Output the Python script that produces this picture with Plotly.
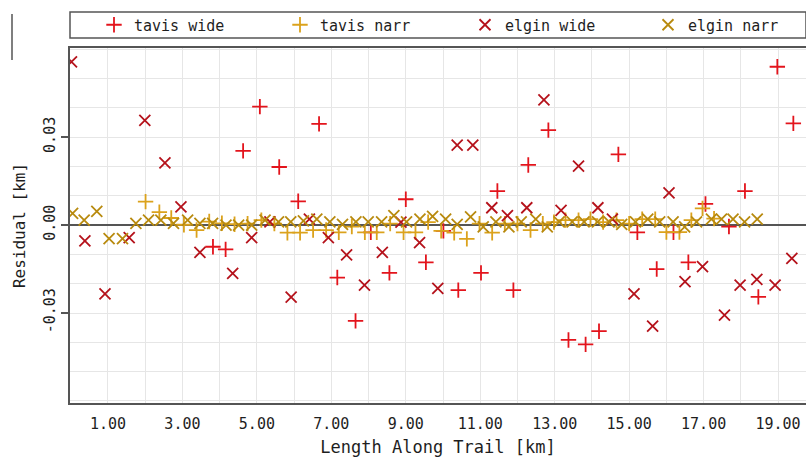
import plotly.graph_objects as go

# ---- data ----
tavis_wide_x = [3.82, 4.16, 4.63, 5.08, 5.60, 6.11, 6.67, 7.16, 7.65, 8.06, 8.56, 9.00, 9.54, 10.01,
                10.41, 11.02, 11.46, 11.89, 12.29, 12.83, 13.37, 13.83, 14.19, 14.71, 15.22, 15.74,
                16.19, 16.59, 17.05, 17.68, 18.11, 18.47, 18.98, 19.41]
tavis_wide_y = [-0.0074, -0.0083, 0.0253, 0.0404, 0.0198, 0.0081, 0.0345, -0.0179, -0.0327, -0.0025,
                -0.0163, 0.0088, -0.0127, -0.0020, -0.0222, -0.0163, 0.0116, -0.0222, 0.0205, 0.0324,
                -0.0392, -0.0407, -0.0362, 0.0241, -0.0025, -0.0150, -0.0025, -0.0127, 0.0072,
                -0.0005, 0.0116, -0.0245, 0.0540, 0.0347]

tavis_narr_x = [2.01, 2.38, 2.70, 3.04, 3.38, 3.72, 4.06, 4.40, 4.75, 5.12, 5.47, 5.82, 6.16, 6.51,
                6.86, 7.20, 7.55, 7.90, 8.22, 8.58, 8.94, 9.26, 9.60, 9.95, 10.30, 10.64, 10.98,
                11.32, 11.66, 12.00, 12.35, 12.68, 12.98, 13.29, 13.64, 13.96, 14.30, 14.66, 15.00,
                15.35, 15.70, 16.00, 16.35, 16.67, 16.97, 17.28]
tavis_narr_y = [0.0080, 0.0044, 0.0024, 0.0001, -0.0017, 0.0012, 0.0006, 0.0003, 0.0005, 0.0017,
                0.0005, -0.0026, -0.0026, -0.0017, -0.0017, -0.0025, -0.0005, -0.0025, -0.0025,
                0.0005, -0.0025, -0.0025, 0.0010, -0.0020, -0.0026, -0.0047, 0.0005, -0.0026,
                0.0005, 0.0005, -0.0017, 0.0005, 0.0010, 0.0017, 0.0017, 0.0020, 0.0010, 0.0017,
                0.0005, 0.0020, 0.0020, -0.0024, -0.0024, 0.0017, 0.0057, 0.0022]

elgin_wide_x = [0.02, 0.38, 0.92, 1.57, 1.99, 2.53, 2.96, 3.47, 4.35, 4.86, 5.35, 5.92, 6.41, 6.92,
                7.41, 7.89, 8.37, 8.87, 9.37, 9.86, 10.38, 10.80, 11.31, 11.73, 12.25, 12.71, 13.17,
                13.64, 14.16, 14.55, 15.13, 15.63, 16.07, 16.50, 16.97, 17.56, 17.98, 18.43, 18.92,
                19.37]
elgin_wide_y = [0.0557, -0.0054, -0.0235, -0.0043, 0.0357, 0.0212, 0.0062, -0.0093, -0.0165,
                -0.0043, 0.0011, -0.0246, 0.0020, -0.0043, -0.0102, -0.0205, -0.0093, 0.0010,
                -0.0060, -0.0216, 0.0273, 0.0273, 0.0059, 0.0032, 0.0059, 0.0427, 0.0050, 0.0201,
                0.0059, 0.0020, -0.0235, -0.0345, 0.0110, -0.0193, -0.0142, -0.0307, -0.0205,
                -0.0185, -0.0205, -0.0114]

elgin_narr_x = [0.05, 0.36, 0.70, 1.03, 1.39, 1.75, 2.09, 2.42, 2.76, 3.14, 3.47, 3.81, 4.17, 4.51,
                4.86, 5.22, 5.58, 5.91, 6.25, 6.61, 6.96, 7.30, 7.66, 7.99, 8.35, 8.68, 9.02, 9.38,
                9.72, 10.07, 10.38, 10.74, 11.08, 11.42, 11.77, 12.10, 12.49, 12.80, 13.12, 13.47,
                13.79, 14.15, 14.46, 14.80, 15.17, 15.50, 15.82, 16.18, 16.49, 16.81, 17.21, 17.48,
                17.79, 18.10, 18.44]
elgin_narr_y = [0.0040, 0.0017, 0.0047, -0.0046, -0.0046, 0.0006, 0.0017, 0.0017, 0.0006, 0.0017,
                0.0006, 0.0006, 0.0000, 0.0000, 0.0000, 0.0017, 0.0011, 0.0011, 0.0014, 0.0020,
                0.0011, 0.0002, 0.0011, 0.0011, 0.0011, 0.0032, 0.0011, 0.0020, 0.0030, 0.0020,
                0.0002, 0.0028, -0.0006, 0.0011, -0.0006, 0.0011, 0.0020, -0.0006, 0.0011, 0.0011,
                0.0011, 0.0011, 0.0011, 0.0002, 0.0011, 0.0020, 0.0011, 0.0011, -0.0006, 0.0011,
                0.0020, 0.0020, 0.0020, 0.0011, 0.0020]

x_tick_vals = [1, 3, 5, 7, 9, 11, 13, 15, 17, 19]
x_tick_text = ["1.00", "3.00", "5.00", "7.00", "9.00", "11.00", "13.00", "15.00", "17.00", "19.00"]
y_tick_vals = [-0.03, 0.0, 0.03]
y_tick_text = ["-0.03", "0.00", "0.03"]

FONT = "DejaVu Sans Mono"
TXT = "#1e1e1e"
W, H = 806, 461
ML, MR, MT, MB = 70, 0, 48, 58
PW, PH = W - ML - MR, H - MT - MB


def px_x(p):
    return (p - ML) / PW


def px_y(p):
    return (H - MB - p) / PH


series = [
    ("tavis wide", tavis_wide_x, tavis_wide_y, "cross-thin", "#e3141c", "legend"),
    ("tavis narr", tavis_narr_x, tavis_narr_y, "cross-thin", "#dba21c", "legend2"),
    ("elgin wide", elgin_wide_x, elgin_wide_y, "x-thin", "#b5121b", "legend3"),
    ("elgin narr", elgin_narr_x, elgin_narr_y, "x-thin", "#b88a0e", "legend4"),
]

fig = go.Figure()
for name, xs, ys, sym, col, lg in series:
    fig.add_trace(go.Scatter(
        x=xs, y=ys, mode="markers", name=name, legend=lg,
        marker=dict(symbol=sym, size=11, color=col, line=dict(color=col, width=1.8)),
    ))

legend_left_px = [94, 280, 465, 648]
legend_common = dict(orientation="h", xanchor="left", yanchor="middle", y=px_y(25),
                     bgcolor="rgba(0,0,0,0)", borderwidth=0,
                     font=dict(family=FONT, size=15, color=TXT))
legends = {}
for key, lp in zip(["legend", "legend2", "legend3", "legend4"], legend_left_px):
    legends[key] = dict(x=px_x(lp), **legend_common)

fig.update_layout(
    width=W, height=H,
    margin=dict(l=ML, r=MR, t=MT, b=MB, autoexpand=False),
    paper_bgcolor="white", plot_bgcolor="white",
    font=dict(family=FONT, size=15, color=TXT),
    showlegend=True,
    **legends,
    xaxis=dict(
        range=[-0.02, 19.75],
        tickmode="array", tickvals=x_tick_vals, ticktext=x_tick_text,
        showgrid=True, gridcolor="#e6e6e6", gridwidth=1,
        minor=dict(dtick=1, tick0=0, showgrid=True, gridcolor="#e6e6e6", gridwidth=1),
        zeroline=False,
        showline=True, linecolor="#555", linewidth=1.5, mirror=True,
        ticks="", ticklabelstandoff=6,
        tickfont=dict(family=FONT, size=15, color=TXT),
        title=dict(text="Length Along Trail [km]", font=dict(family=FONT, size=17, color=TXT),
                   standoff=9),
        automargin=False,
    ),
    yaxis=dict(
        range=[-0.0607, 0.0604],
        tickmode="array", tickvals=y_tick_vals, ticktext=y_tick_text,
        tickangle=-90,
        showgrid=True, gridcolor="#e6e6e6", gridwidth=1,
        minor=dict(dtick=0.01, tick0=0, showgrid=True, gridcolor="#e6e6e6", gridwidth=1),
        zeroline=True, zerolinecolor="#555", zerolinewidth=1.5,
        showline=True, linecolor="#555", linewidth=1.5, mirror=True,
        ticks="outside", ticklen=7, tickcolor="#555", tickwidth=1.5,
        tickfont=dict(family=FONT, size=15, color=TXT),
        title=dict(text="Residual [km]", font=dict(family=FONT, size=16, color=TXT),
                   standoff=12),
        automargin=False,
    ),
    shapes=[
        dict(type="rect", xref="paper", yref="paper",
             x0=px_x(70), x1=px_x(806), y0=px_y(38), y1=px_y(12),
             line=dict(color="#555", width=1.5), fillcolor="rgba(0,0,0,0)", layer="below"),
        dict(type="line", xref="paper", yref="paper",
             x0=px_x(12), x1=px_x(12), y0=px_y(60), y1=px_y(14),
             line=dict(color="#555", width=1.5)),
    ],
)

fig.write_html("out.html")
